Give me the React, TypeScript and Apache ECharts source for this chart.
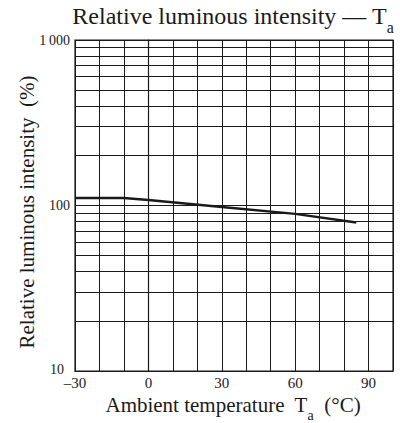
import React, { useEffect, useRef } from "react";
import * as echarts from "echarts";

const tempC = [-30, -10, 0, 30, 60, 85];
const intensity = [111, 111, 108, 98, 89, 79];
const xTickLabels = [-30, 0, 30, 60, 90];
const minorGridValues = [20, 30, 40, 50, 60, 70, 80, 90, 200, 300, 400, 500, 600, 700, 800, 900];

const FONT = "'Liberation Serif', 'DejaVu Serif', serif";
const INK = "#1a1a1a";

export default function App() {
  const ref = useRef<HTMLDivElement>(null);
  useEffect(() => {
    if (!ref.current) return;
    const chart = echarts.init(ref.current, undefined, { renderer: "svg" });
    chart.setOption({
      animation: false,
      backgroundColor: "#ffffff",
      grid: {
        left: 75,
        right: 7,
        top: 40,
        bottom: 52,
        show: true,
        borderColor: INK,
        borderWidth: 1.2,
        backgroundColor: "transparent",
      },
      xAxis: {
        type: "value",
        min: -30,
        max: 100,
        interval: 10,
        axisLine: { show: true, lineStyle: { color: INK, width: 1.2 } },
        axisTick: { show: false },
        splitLine: { show: true, lineStyle: { color: INK, width: 1 } },
        axisLabel: {
          color: INK,
          fontFamily: FONT,
          fontSize: 15,
          lineHeight: 16,
          margin: 4,
          formatter: (v: number) =>
            xTickLabels.includes(v) ? (v < 0 ? "\u2013" + Math.abs(v) : String(v)) : "",
        },
      },
      yAxis: {
        type: "log",
        logBase: 10,
        min: 10,
        max: 1000,
        axisLine: { show: true, lineStyle: { color: INK, width: 1.2 } },
        axisTick: { show: false },
        splitLine: { show: true, lineStyle: { color: INK, width: 1 } },
        axisLabel: {
          color: INK,
          fontFamily: FONT,
          fontSize: 14,
          margin: 5,
          formatter: (v: number) =>
            v >= 1000 ? "1\u2009000" : v <= 10 ? "{lo|" + v + "}" : String(v),
          rich: {
            lo: { fontFamily: FONT, fontSize: 14, color: INK, padding: [0, 6, 3, 0] },
          },
        },
      },
      series: [
        {
          type: "line",
          data: tempC.map((t, i) => [t, intensity[i]]),
          symbol: "none",
          smooth: false,
          lineStyle: { color: INK, width: 2.4 },
          markLine: {
            silent: true,
            symbol: "none",
            label: { show: false },
            lineStyle: { color: INK, width: 1, type: "solid" },
            data: minorGridValues.map((v) => ({ yAxis: v })),
          },
          z: 5,
        },
      ],
      graphic: [
        {
          type: "text",
          x: 233,
          y: 4,
          style: {
            text: "{m|Relative luminous intensity \u2014 T}{s|a}",
            align: "center",
            verticalAlign: "top",
            fill: INK,
            rich: {
              m: { fontFamily: FONT, fontSize: 24, lineHeight: 26, verticalAlign: "top", fill: INK },
              s: { fontFamily: FONT, fontSize: 16, lineHeight: 16, padding: [15, 0, 0, 0], verticalAlign: "top", fill: INK },
            },
          },
        },
        {
          type: "text",
          x: 233,
          y: 394,
          style: {
            text: "{m|Ambient temperature  T}{s|a}{m|  (\u00b0C)}",
            align: "center",
            verticalAlign: "top",
            fill: INK,
            rich: {
              m: { fontFamily: FONT, fontSize: 21, lineHeight: 20, verticalAlign: "top", fill: INK },
              s: { fontFamily: FONT, fontSize: 14, lineHeight: 14, padding: [14, 0, 0, 0], verticalAlign: "top", fill: INK },
            },
          },
        },
        {
          type: "text",
          x: 27,
          y: 212,
          rotation: Math.PI / 2,
          style: {
            text: "Relative luminous intensity  (%)",
            align: "center",
            verticalAlign: "middle",
            fontFamily: FONT,
            fontSize: 21,
            fill: INK,
          },
        },
      ],
    });
    return () => chart.dispose();
  }, []);
  return <div ref={ref} style={{ width: 400, height: 423, position: "absolute", left: 0, top: 0 }} />;
}
